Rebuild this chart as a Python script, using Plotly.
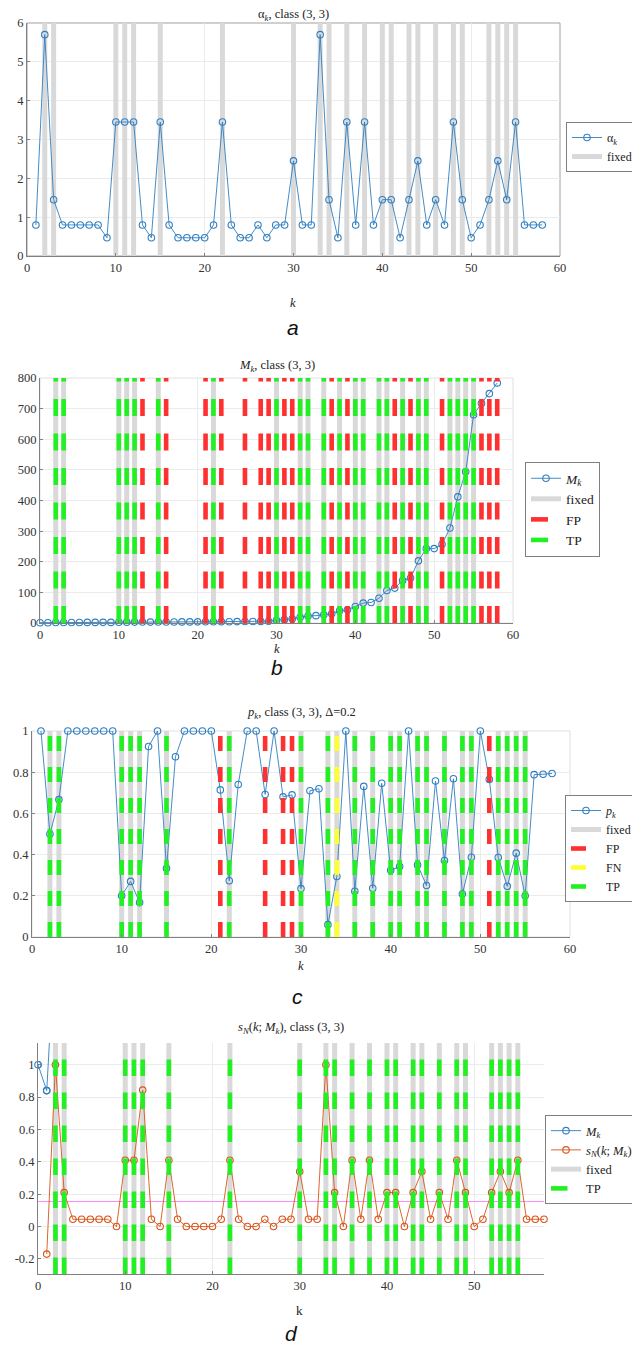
import plotly.graph_objects as go

# The page body has an 8px margin, so the figure is 8px smaller and all
# reference pixel positions are shifted by OFF.
OFF = 8
W, H = 640 - OFF, 1345 - OFF

# ---------------- data ----------------
k_M = list(range(0, 59))          # k for M_k
k_vals = list(range(1, 59))       # k for alpha, p, s_N

alpha = [0.8, 5.7, 1.45, 0.8, 0.8, 0.8, 0.8, 0.8, 0.47, 3.45,
         3.45, 3.45, 0.8, 0.47, 3.45, 0.8, 0.47, 0.47, 0.47, 0.47,
         0.8, 3.45, 0.8, 0.47, 0.47, 0.8, 0.47, 0.8, 0.8, 2.45,
         0.8, 0.8, 5.7, 1.45, 0.47, 3.45, 0.8, 3.45, 0.8, 1.45,
         1.45, 0.47, 1.45, 2.45, 0.8, 1.45, 0.8, 3.45, 1.45, 0.47,
         0.8, 1.45, 2.45, 1.45, 3.45, 0.8, 0.8, 0.8]

M = [1.0, 0.84, 1.8, 1.6, 1.7, 1.8, 1.9, 2.0, 2.1, 2.0,
     2.5, 2.7, 3.0, 3.1, 3.0, 3.4, 3.5, 3.5, 3.6, 3.6,
     3.7, 3.9, 4.3, 4.4, 4.3, 4.5, 4.8, 4.8, 5.2, 5.8,
     9, 11, 14, 19, 23, 24, 27, 30, 40, 43,
     54, 65, 67, 81, 106, 114, 139, 147, 203, 243,
     243, 257, 310, 412, 494, 680, 717, 749, 784]

p = [1.0, 0.5, 0.667, 1.0, 1.0, 1.0, 1.0, 1.0, 1.0, 0.2,
     0.27, 0.167, 0.925, 1.0, 0.333, 0.875, 1.0, 1.0, 1.0, 1.0,
     0.714, 0.273, 0.74, 1.0, 1.0, 0.692, 1.0, 0.68, 0.69, 0.235,
     0.71, 0.72, 0.06, 0.294, 1.0, 0.222, 0.731, 0.237, 0.746, 0.324,
     0.342, 1.0, 0.35, 0.25, 0.757, 0.371, 0.768, 0.209, 0.387, 1.0,
     0.765, 0.386, 0.246, 0.407, 0.2, 0.788, 0.79, 0.794]

sN = [-0.17, 1.0, 0.21, 0.045, 0.045, 0.045, 0.045, 0.045, 0.0, 0.41,
      0.41, 0.843, 0.045, 0.0, 0.41, 0.045, 0.0, 0.0, 0.0, 0.0,
      0.045, 0.41, 0.045, 0.0, 0.0, 0.045, 0.0, 0.045, 0.045, 0.34,
      0.045, 0.045, 1.0, 0.21, 0.0, 0.41, 0.045, 0.41, 0.045, 0.21,
      0.21, 0.0, 0.21, 0.34, 0.045, 0.21, 0.045, 0.41, 0.21, 0.0,
      0.045, 0.21, 0.34, 0.21, 0.41, 0.045, 0.045, 0.045]
sN_threshold = 0.155

fixed_k = [2, 3, 10, 11, 12, 15, 22, 30, 33, 34, 36, 38, 40, 41, 43, 44,
           46, 48, 49, 52, 53, 54, 55]
fp_b = [13, 16, 21, 23, 26, 28, 29, 31, 32, 37, 39, 45, 47, 51, 56, 57, 58]
tp_b = fixed_k
fp_c = [21, 26, 28, 29, 51]
fn_c = [34]
tp_c = [k for k in fixed_k if k not in fn_c]
tp_d = fixed_k

# axis limits / ticks
xr_abc = [0, 60]
xr_d = [0, 58]
yr_a = [0, 6]
yr_b = [0, 800]
yr_c = [0, 1]
yr_d = [-0.293, 1.134]
xt_abc = [0, 10, 20, 30, 40, 50, 60]
xt_d = [0, 10, 20, 30, 40, 50]
yt_a = [0, 1, 2, 3, 4, 5, 6]
yt_b = [0, 100, 200, 300, 400, 500, 600, 700, 800]
yt_c = [0, 0.2, 0.4, 0.6, 0.8, 1]
yt_c_txt = ["0", "0.2", "0.4", "0.6", "0.8", "1"]
yt_d = [-0.2, 0, 0.2, 0.4, 0.6, 0.8, 1]
yt_d_txt = ["-0.2", "0", "0.2", "0.4", "0.6", "0.8", "1"]

# ---------------- style ----------------
BLUE = "#2f7fc1"
ORANGE = "#d95319"
GRAY = "#d9d9d9"
RED = "#ff3030"
GREEN = "#22f022"
YELLOW = "#ffff30"
SERIF = "Liberation Serif"
SANS = "Liberation Sans"


def vbars(ks, y0, y1):
    xs, ys = [], []
    for k in ks:
        xs += [k, k, None]
        ys += [y0, y1, None]
    return xs, ys


fig = go.Figure()


def add_bars(ks, yr, color, width, name, xa, ya, leg, rank, dash="solid", show=True):
    xs, ys = vbars(ks, yr[0], yr[1])
    fig.add_trace(go.Scatter(x=xs, y=ys, mode="lines", name=name,
                             line=dict(color=color, width=width, dash=dash),
                             xaxis=xa, yaxis=ya, legend=leg, legendrank=rank,
                             showlegend=show, hoverinfo="skip"))


def add_line(x, y, color, name, xa, ya, leg, rank, clip=False, show=True):
    fig.add_trace(go.Scatter(x=x, y=y, mode="lines+markers", name=name,
                             line=dict(color=color, width=0.9),
                             marker=dict(symbol="circle-open", size=6.5,
                                         color=color, line=dict(width=1.1)),
                             cliponaxis=clip, xaxis=xa, yaxis=ya,
                             legend=leg, legendrank=rank, showlegend=show))


# Panel a
add_bars(fixed_k, yr_a, GRAY, 5, "fixed", "x", "y", "legend", 2)
add_line(k_vals, alpha, BLUE, "α<sub><i>k</i></sub>", "x", "y", "legend", 1)

# Panel b
dash_b = "17px,17.5px"
add_bars(fixed_k, yr_b, GRAY, 5, "fixed", "x2", "y2", "legend2", 2)
add_line(k_M, M, BLUE, "<i>M</i><sub><i>k</i></sub>", "x2", "y2", "legend2", 1)
add_bars(fp_b, yr_b, RED, 4.6, "FP", "x2", "y2", "legend2", 3, dash_b)
add_bars(tp_b, yr_b, GREEN, 4.6, "TP", "x2", "y2", "legend2", 4, dash_b)

# Panel c
dash_c = "15px,16px"
add_bars(fixed_k, yr_c, GRAY, 5, "fixed", "x3", "y3", "legend3", 2)
add_line(k_vals, p, BLUE, "<i>p</i><sub><i>k</i></sub>", "x3", "y3", "legend3", 1)
add_bars(fp_c, yr_c, RED, 4.6, "FP", "x3", "y3", "legend3", 3, dash_c)
add_bars(fn_c, yr_c, YELLOW, 4.6, "FN", "x3", "y3", "legend3", 4, dash_c)
add_bars(tp_c, yr_c, GREEN, 4.6, "TP", "x3", "y3", "legend3", 5, dash_c)

# Panel d
dash_d = "16.5px,16.5px"
add_bars(fixed_k, yr_d, GRAY, 5, "fixed", "x4", "y4", "legend4", 3)
fig.add_trace(go.Scatter(x=xr_d, y=[sN_threshold, sN_threshold], mode="lines",
                         line=dict(color="#ff88ff", width=1), showlegend=False,
                         xaxis="x4", yaxis="y4", hoverinfo="skip"))
add_line(k_M, M, BLUE, "<i>M</i><sub><i>k</i></sub>", "x4", "y4", "legend4", 1, clip=True)
# markers of M_k that lie inside the visible range (drawn unclipped)
Mk_vis = [(k, m) for k, m in zip(k_M, M) if yr_d[0] <= m <= yr_d[1]]
fig.add_trace(go.Scatter(x=[v[0] for v in Mk_vis], y=[v[1] for v in Mk_vis], mode="markers",
                         marker=dict(symbol="circle-open", size=6.5, color=BLUE, line=dict(width=1.1)),
                         cliponaxis=False, showlegend=False, xaxis="x4", yaxis="y4"))
add_line(k_vals, sN, ORANGE, "<i>s</i><sub><i>N</i></sub>(<i>k</i>; <i>M</i><sub><i>k</i></sub>)",
         "x4", "y4", "legend4", 2)
add_bars(tp_d, yr_d, GREEN, 4.6, "TP", "x4", "y4", "legend4", 4, dash_d)


# ---------------- layout ----------------
def fx(px):
    return (px - OFF) / W


def fy(px):
    return 1 - (px - OFF) / H


def dx(l, r):
    return [fx(l), fx(r)]


def dy(t, b):
    return [fy(b), fy(t)]


def axis_common():
    return dict(showgrid=True, gridcolor="#ebebeb", gridwidth=1, zeroline=False,
                showline=True, linecolor="#808080", linewidth=1,
                ticks="inside", ticklen=3, tickcolor="#808080", automargin=False,
                tickfont=dict(family=SERIF, size=12.5, color="#333333"))


def xaxis(dom, rng, tv, anchor):
    return dict(domain=dom, range=rng, tickvals=tv, anchor=anchor, **axis_common())


def yaxis(dom, rng, tv, anchor, tt=None):
    d = dict(domain=dom, range=rng, tickvals=tv, anchor=anchor, **axis_common())
    if tt is not None:
        d["ticktext"] = tt
    return d


PA = dict(l=27, r=560, t=23, b=256)
PB = dict(l=40, r=513, t=378, b=623)
PC = dict(l=32, r=570, t=731, b=937)
PD = dict(l=38, r=544, t=1043, b=1274)

fig.update_layout(
    width=W, height=H, margin=dict(l=0, r=0, t=0, b=0, autoexpand=False),
    plot_bgcolor="white", paper_bgcolor="white",
    xaxis=xaxis(dx(PA["l"], PA["r"]), xr_abc, xt_abc, "y"),
    yaxis=yaxis(dy(PA["t"], PA["b"]), yr_a, yt_a, "x"),
    xaxis2=xaxis(dx(PB["l"], PB["r"]), xr_abc, xt_abc, "y2"),
    yaxis2=yaxis(dy(PB["t"], PB["b"]), yr_b, yt_b, "x2"),
    xaxis3=xaxis(dx(PC["l"], PC["r"]), xr_abc, xt_abc, "y3"),
    yaxis3=yaxis(dy(PC["t"], PC["b"]), yr_c, yt_c, "x3", yt_c_txt),
    xaxis4=xaxis(dx(PD["l"], PD["r"]), xr_d, xt_d, "y4"),
    yaxis4=yaxis(dy(PD["t"], PD["b"]), yr_d, yt_d, "x4", yt_d_txt),
)


def leg(xpx, ypx, size, xanchor="left"):
    return dict(x=fx(xpx), y=fy(ypx), xref="container", yref="container",
                xanchor=xanchor, yanchor="top", bgcolor="white",
                bordercolor="#808080", borderwidth=1,
                font=dict(family=SERIF, size=size, color="#222222"),
                itemwidth=30, tracegroupgap=0, traceorder="normal")


fig.update_layout(
    legend=leg(566, 122, 12),
    legend2=leg(525, 462, 13.5),
    legend3=leg(637, 795, 12, "right"),
    legend4=leg(545, 1115, 12.5),
)

# frames (light box on top/right)
shapes = []
for xa, ya, col in [("x", "y", "#a0a0a0"), ("x2", "y2", "#e0e0e0"), ("x3", "y3", "#e0e0e0")]:
    shapes.append(dict(type="rect", xref=xa + " domain", yref=ya + " domain",
                       x0=0, x1=1, y0=0, y1=1, line=dict(color=col, width=1),
                       fillcolor="rgba(0,0,0,0)", layer="below"))
fig.update_layout(shapes=shapes)


def ann(text, xpx, ypx, font, size, color="#222222"):
    return dict(text=text, x=fx(xpx), y=fy(ypx), xref="paper", yref="paper",
                showarrow=False, xanchor="center", yanchor="middle",
                font=dict(family=font, size=size, color=color))


annotations = [
    ann("α<sub><i>k</i></sub>, class (3, 3)", 293, 15.5, SERIF, 12.5),
    ann("<i>k</i>", 293, 303, SERIF, 12.5),
    ann("<i>a</i>", 293, 327, SANS, 21, "#111111"),
    ann("<i>M</i><sub><i>k</i></sub>, class (3, 3)", 277, 366, SERIF, 12.5),
    ann("<i>k</i>", 277, 649, SERIF, 12.5),
    ann("<i>b</i>", 277, 668, SANS, 21, "#111111"),
    ann("<i>p</i><sub><i>k</i></sub>, class (3, 3), Δ=0.2", 301, 713, SERIF, 12.5),
    ann("<i>k</i>", 301, 966, SERIF, 12.5),
    ann("<i>c</i>", 297, 996, SANS, 21, "#111111"),
    ann("<i>s</i><sub><i>N</i></sub>(<i>k</i>; <i>M</i><sub><i>k</i></sub>), class (3, 3)", 291, 1028, SERIF, 12.5),
    ann("k", 299, 1310, SERIF, 13),
    ann("<i>d</i>", 291, 1333, SANS, 21, "#111111"),
]
fig.update_layout(annotations=annotations)

fig.write_html("out.html")
